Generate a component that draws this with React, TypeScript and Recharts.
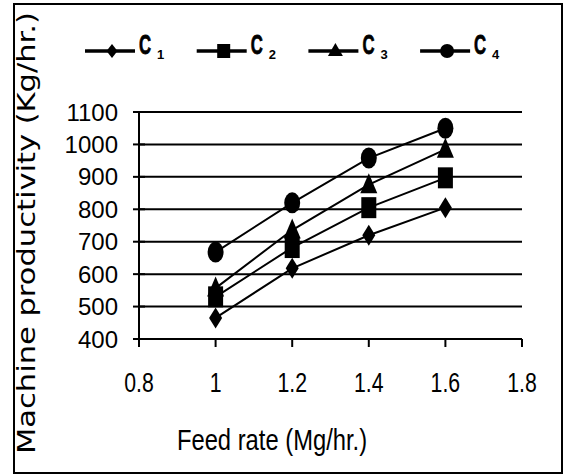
import React from 'react';
import {
  LineChart,
  Line,
  XAxis,
  YAxis,
  CartesianGrid,
  Legend,
} from 'recharts';

const feedRates = [1, 1.2, 1.4, 1.6];
const c1Values = [465, 618, 720, 805];
const c2Values = [530, 682, 805, 897];
const c3Values = [557, 736, 876, 985];
const c4Values = [668, 820, 958, 1050];

const xTicks = [0.8, 1, 1.2, 1.4, 1.6, 1.8];
const yTicks = [400, 500, 600, 700, 800, 900, 1000, 1100];

const seriesNames = ['C1', 'C2', 'C3', 'C4'];
const seriesSubs = ['1', '2', '3', '4'];
const seriesShapes = ['diamond', 'square', 'triangle', 'circle'];

const data = feedRates.map((x, i) => ({
  x,
  C1: c1Values[i],
  C2: c2Values[i],
  C3: c3Values[i],
  C4: c4Values[i],
}));

const SANS = '"Liberation Sans", Arial, sans-serif';

// markers in the source are taller than wide
const Marker = ({ cx, cy, shape, w = 7.5, h = 10.5 }: any) => {
  if (cx == null || cy == null) return null;
  if (shape === 'diamond') {
    return (
      <polygon
        points={`${cx},${cy - h} ${cx + w - 1},${cy} ${cx},${cy + h} ${cx - w + 1},${cy}`}
        fill="#000"
      />
    );
  }
  if (shape === 'square') {
    return <rect x={cx - w} y={cy - h} width={w * 2} height={h * 2} fill="#000" />;
  }
  if (shape === 'triangle') {
    return (
      <polygon
        points={`${cx},${cy - h - 1} ${cx + w + 1},${cy + h - 2} ${cx - w - 1},${cy + h - 2}`}
        fill="#000"
      />
    );
  }
  return <ellipse cx={cx} cy={cy} rx={w + 0.5} ry={h} fill="#000" />;
};

const YTick = ({ x, y, payload }: any) => (
  <g>
    <line x1={x + 4} x2={x + 16} y1={y} y2={y} stroke="#000" strokeWidth={2} />
    <text
      x={x - 11}
      y={y}
      textAnchor="end"
      dominantBaseline="central"
      fontFamily={SANS}
      fontSize={24}
      fill="#000"
    >
      {payload.value}
    </text>
  </g>
);

const XTick = ({ x, y, payload }: any) => (
  <text
    transform={`translate(${x}, ${y + 43}) scale(0.76, 1)`}
    textAnchor="middle"
    fontFamily={SANS}
    fontSize={28}
    fill="#000"
  >
    {payload.value}
  </text>
);

const LegendContent = () => (
  <svg width={563} height={40} style={{ display: 'block', overflow: 'visible' }}>
    {seriesNames.map((name, i) => {
      const x0 = 85 + i * 111.7;
      return (
        <g key={name}>
          <line x1={x0} x2={x0 + 50} y1={31} y2={31} stroke="#000" strokeWidth={3.5} />
          <Marker cx={x0 + 27} cy={31} shape={seriesShapes[i]} w={6.5} h={7} />
          <text
            transform={`translate(${x0 + 54}, 34) scale(0.62, 1)`}
            fontFamily={SANS}
            fontWeight="bold"
            fontSize={27}
            stroke="#000"
            strokeWidth={0.8}
            fill="#000"
          >
            C
          </text>
          <text
            x={x0 + 72}
            y={39}
            fontFamily={SANS}
            fontWeight="bold"
            fontSize={13}
            fill="#000"
          >
            {seriesSubs[i]}
          </text>
        </g>
      );
    })}
  </svg>
);

const YLabel = () => (
  <text
    x={0}
    y={0}
    transform="translate(35, 233) rotate(-90)"
    textAnchor="middle"
    fontFamily='"DejaVu Sans", sans-serif'
    fontSize={24}
    textLength={442}
    lengthAdjust="spacingAndGlyphs"
    fill="#000"
  >
    Machine productivity (Kg/hr.)
  </text>
);

const XLabel = () => (
  <text
    transform="translate(272, 450) scale(0.82, 1)"
    textAnchor="middle"
    fontFamily={SANS}
    fontSize={29}
    fill="#000"
  >
    Feed rate (Mg/hr.)
  </text>
);

export default function App() {
  return (
    <div
      style={{
        position: 'absolute',
        left: 0,
        top: 0,
        width: 563,
        height: 475,
        background: '#fff',
      }}
    >
      <div
        style={{
          position: 'absolute',
          left: 13,
          top: 3,
          width: 546,
          height: 467,
          border: '2px solid #000',
        }}
      />
      <div style={{ position: 'absolute', left: 0, top: 0 }}>
        <LineChart
          width={563}
          height={475}
          data={data}
          margin={{ top: 72, right: 41, bottom: 96, left: 14 }}
        >
          <CartesianGrid
            vertical={false}
            horizontal
            stroke="#000"
            strokeWidth={2}
          />
          <XAxis
            dataKey="x"
            type="number"
            domain={[0.8, 1.8]}
            ticks={xTicks}
            height={40}
            axisLine={{ stroke: '#000', strokeWidth: 2 }}
            tickLine={{ stroke: '#000', strokeWidth: 2 }}
            tickSize={8}
            tick={<XTick />}
            label={<XLabel />}
          />
          <YAxis
            type="number"
            domain={[400, 1100]}
            ticks={yTicks}
            width={125}
            axisLine={{ stroke: '#000', strokeWidth: 2 }}
            tickLine={false}
            tickSize={6}
            tickMargin={4}
            tick={<YTick />}
            label={<YLabel />}
          />
          <Legend
            verticalAlign="top"
            align="left"
            content={<LegendContent />}
            wrapperStyle={{ top: 20, left: 0, width: 563, height: 40 }}
          />
          {seriesNames.map((name, i) => (
            <Line
              key={name}
              dataKey={name}
              stroke="#000"
              strokeWidth={2}
              isAnimationActive={false}
              dot={(p: any) => <Marker key={p.index} cx={p.cx} cy={p.cy} shape={seriesShapes[i]} />}
              activeDot={false}
            />
          ))}
        </LineChart>
      </div>
    </div>
  );
}
